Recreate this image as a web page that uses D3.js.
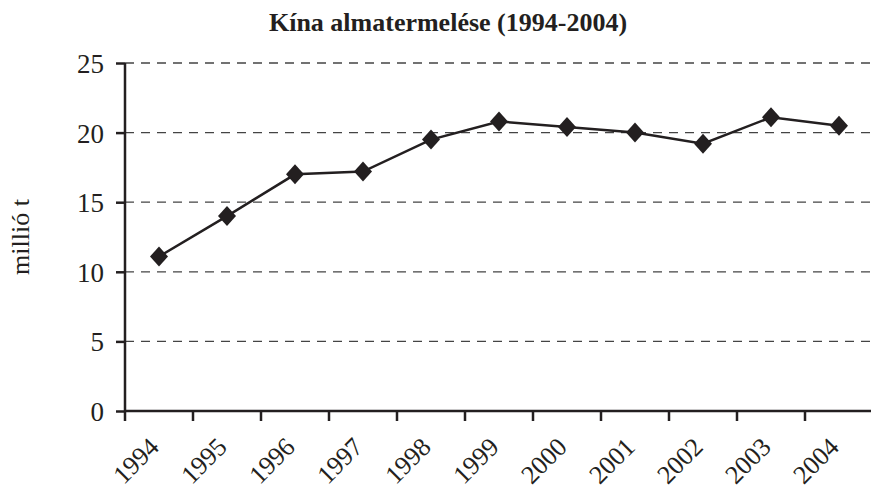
<!DOCTYPE html>
<html>
<head>
<meta charset="utf-8">
<script src="https://cdn.jsdelivr.net/npm/d3@7"></script>
<style>
	body { margin: 0; background: #fff; }
	svg text { font-family: "Liberation Serif", "Times New Roman", serif; fill: #231f20; }
</style>
</head>
<body>
<div id="chart"></div>
<script>
var years = ["1994", "1995", "1996", "1997", "1998", "1999", "2000", "2001", "2002", "2003", "2004"];
var production = [11.1, 14.0, 17.0, 17.2, 19.5, 20.8, 20.4, 20.0, 19.2, 21.1, 20.5];
var yTicks = [0, 5, 10, 15, 20, 25];

var W = 871, H = 488;
var plot_left = 125, plot_right = 873, plot_top = 63, plot_bottom = 411;

var svg = d3.select("#chart")
	.append("svg")
	.attr("width", W)
	.attr("height", H);

var x = d3.scaleBand()
	.domain(years)
	.range([plot_left, plot_right]);

var y = d3.scaleLinear()
	.domain([0, 25])
	.range([plot_bottom, plot_top]);

// gridlines
svg.selectAll(".grid")
	.data(yTicks.filter(function(d) { return d > 0; }))
	.enter()
	.append("line")
	.attr("x1", plot_left)
	.attr("x2", plot_right)
	.attr("y1", function(d) { return y(d); })
	.attr("y2", function(d) { return y(d); })
	.attr("stroke", "#444")
	.attr("stroke-width", 1.3)
	.attr("stroke-dasharray", "9,7");

// y axis
var yAxis = svg.append("g")
	.attr("transform", "translate(" + plot_left + ",0)")
	.call(d3.axisLeft(y).tickValues(yTicks).tickSize(9).tickPadding(12));
yAxis.selectAll("text").style("font-size", "27px").attr("dy", "0.35em");

// x axis
var xAxis = svg.append("g")
	.attr("transform", "translate(0," + plot_bottom + ")")
	.call(d3.axisBottom(x).tickSize(0));
xAxis.selectAll(".tick text")
	.style("font-size", "26px")
	.attr("text-anchor", "end")
	.attr("y", 0)
	.attr("dy", "0.35em")
	.attr("transform", "translate(-5,31) rotate(-45)");
xAxis.selectAll(".tick line").remove();
// tick marks at band boundaries
xAxis.selectAll(".bnd")
	.data(years)
	.enter()
	.append("line")
	.attr("x1", function(d) { return x(d); })
	.attr("x2", function(d) { return x(d); })
	.attr("y1", 0)
	.attr("y2", 10)
	.attr("stroke", "#231f20")
	.attr("stroke-width", 2.5);

svg.selectAll(".domain")
	.attr("stroke", "#231f20")
	.attr("stroke-width", 2.5);
yAxis.selectAll(".tick line").attr("stroke", "#231f20").attr("stroke-width", 2.5);
xAxis.select(".domain").attr("d", "M" + plot_left + ",0H" + plot_right);
yAxis.select(".domain").attr("d", "M0," + plot_bottom + "V" + plot_top);

// line
var line = d3.line()
	.x(function(d, i) { return x(years[i]) + x.bandwidth() / 2; })
	.y(function(d) { return y(d); });

svg.append("path")
	.datum(production)
	.attr("d", line)
	.attr("fill", "none")
	.attr("stroke", "#231f20")
	.attr("stroke-width", 2.5);

// diamond markers
svg.selectAll(".pt")
	.data(production)
	.enter()
	.append("path")
	.attr("d", "M0,-10L9,0L0,10L-9,0Z")
	.attr("transform", function(d, i) {
		return "translate(" + (x(years[i]) + x.bandwidth() / 2) + "," + y(d) + ")";
	})
	.attr("fill", "#231f20");

// title
svg.append("text")
	.attr("x", 448)
	.attr("y", 31)
	.attr("text-anchor", "middle")
	.style("font-size", "26px")
	.style("font-weight", "bold")
	.text("Kína almatermelése (1994-2004)");

// y label
svg.append("text")
	.attr("transform", "translate(29,237) rotate(-90)")
	.attr("text-anchor", "middle")
	.style("font-size", "26px")
	.text("millió t");
</script>
</body>
</html>
